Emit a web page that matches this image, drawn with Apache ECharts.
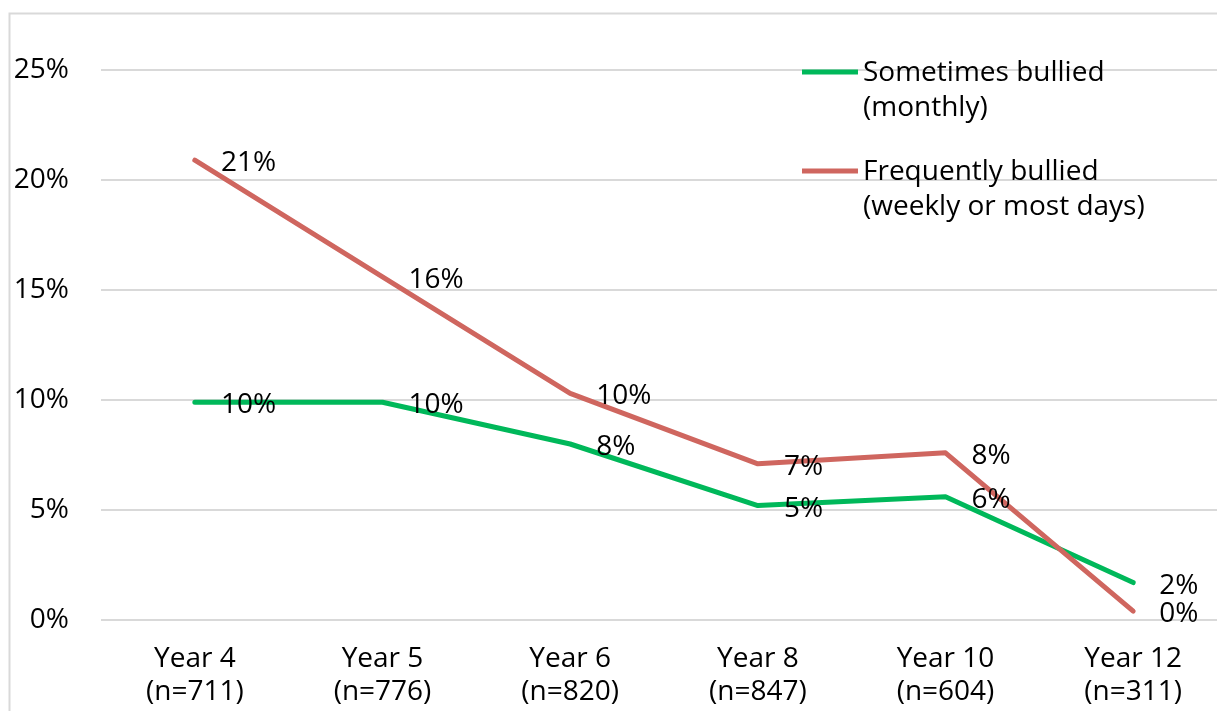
<!DOCTYPE html>
<html>
<head>
<meta charset="utf-8">
<script src="https://cdn.jsdelivr.net/npm/echarts@6/dist/echarts.min.js"></script>
<style>
html,body{margin:0;padding:0;background:#fff;overflow:hidden;}
#c{width:1227px;height:711px;}
</style>
</head>
<body>
<div id="c"></div>
<script>
const categories = ['Year 4\n(n=711)', 'Year 5\n(n=776)', 'Year 6\n(n=820)', 'Year 8\n(n=847)', 'Year 10\n(n=604)', 'Year 12\n(n=311)'];
const sometimesName = 'Sometimes bullied\n(monthly)';
const frequentlyName = 'Frequently bullied\n(weekly or most days)';
const sometimesValues = [9.9, 9.9, 8.0, 5.2, 5.6, 1.7];
const frequentlyValues = [20.9, 15.6, 10.3, 7.1, 7.6, 0.4];
const yTicks = { min: 0, max: 25, interval: 5 };

const FONT = 'Open Sans';
const FS = 28;
const chart = echarts.init(document.getElementById('c'), null, { renderer: 'canvas' });
const legendIcon = 'path://M0,13.5H56V18.5H0Z M0,0H0.01V0.01H0Z M0,70H0.01V70.01H0Z';
const labelCfg = {
  show: true, position: 'right', distance: 26, offset: [0, 3],
  color: '#000', fontFamily: FONT, fontSize: FS,
  formatter: p => Math.round(p.value) + '%'
};
chart.setOption({
  backgroundColor: '#fff',
  animation: false,
  graphic: [{
    type: 'rect', left: 7, top: 11, silent: true, z: -10,
    shape: { width: 1300, height: 800 },
    style: { fill: 'none', stroke: '#d9d9d9', lineWidth: 2 }
  }],
  legend: {
    orient: 'vertical', left: 802, top: 56, itemGap: 29, padding: 0,
    itemWidth: 56, itemHeight: 70,
    data: [
      { name: sometimesName, icon: legendIcon },
      { name: frequentlyName, icon: legendIcon }
    ],
    textStyle: { color: '#000', fontFamily: FONT, fontSize: FS, lineHeight: 35 }
  },
  grid: { left: 101, right: 0, top: 70, bottom: 91, containLabel: false },
  xAxis: {
    type: 'category', data: categories, boundaryGap: true,
    axisLine: { show: false }, axisTick: { show: false },
    axisLabel: { color: '#000', fontFamily: FONT, fontSize: FS, lineHeight: 33, margin: 23, interval: 0 }
  },
  yAxis: {
    type: 'value', min: yTicks.min, max: yTicks.max, interval: yTicks.interval,
    axisLine: { show: false }, axisTick: { show: false },
    axisLabel: { color: '#000', fontFamily: FONT, fontSize: FS, margin: 32, formatter: v => v + '%' },
    splitLine: { lineStyle: { color: '#d9d9d9', width: 2 } }
  },
  series: [
    {
      name: sometimesName, type: 'line', data: sometimesValues,
      showSymbol: true, symbol: 'circle', symbolSize: 0.1,
      lineStyle: { color: '#00B85A', width: 5, cap: 'round', join: 'round' },
      itemStyle: { color: '#00B85A' },
      label: labelCfg
    },
    {
      name: frequentlyName, type: 'line', data: frequentlyValues,
      showSymbol: true, symbol: 'circle', symbolSize: 0.1,
      lineStyle: { color: '#CF665F', width: 5, cap: 'round', join: 'round' },
      itemStyle: { color: '#CF665F' },
      label: labelCfg
    }
  ]
});
</script>
</body>
</html>
